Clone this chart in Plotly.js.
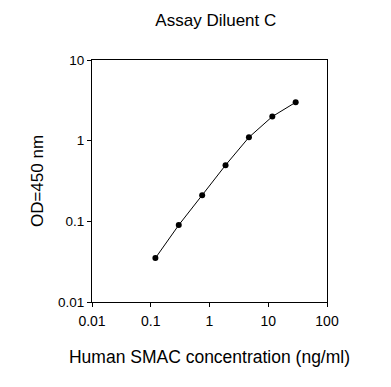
<!DOCTYPE html>
<html>
<head>
<meta charset="utf-8">
<script src="https://cdn.plot.ly/plotly-3.0.1.min.js"></script>
<style>html,body{margin:0;padding:0;background:#fff;}#chart{width:391px;height:387px;}</style>
</head>
<body>
<div id="chart"></div>
<script>
const concentration = [0.12, 0.3, 0.75, 1.875, 4.6875, 11.72, 29.3];
const od450 = [0.035, 0.09, 0.211, 0.497, 1.10, 1.99, 2.99];
const xTickVals = [0.01, 0.1, 1, 10, 100];
const xTickText = ["0.01", "0.1", "1", "10", "100"];
const yTickVals = [0.01, 0.1, 1, 10];
const yTickText = ["0.01", "0.1", "1", "10"];

const font = "Liberation Sans, Arial, sans-serif";
const trace = {
  x: concentration, y: od450, type: 'scatter', mode: 'lines+markers',
  line: {color: '#000', width: 1},
  marker: {color: '#000', size: 6},
  showlegend: false
};
const layout = {
  width: 391, height: 387,
  margin: {l: 92, r: 64, t: 60, b: 85},
  paper_bgcolor: '#fff', plot_bgcolor: '#fff',
  font: {family: font, color: '#000', size: 14},
  title: {text: 'Assay Diluent C', font: {family: font, size: 17, color: '#000'}, x: 0.552, xanchor: 'center', y: 0.948, yanchor: 'middle'},
  xaxis: {
    type: 'log', range: [-2, 2], tickvals: xTickVals, ticktext: xTickText,
    ticks: 'outside', ticklen: 4, tickwidth: 1, tickcolor: '#000',
    ticklabelstandoff: 2,
    showline: true, linecolor: '#000', linewidth: 1, mirror: true,
    showgrid: false, zeroline: false,
    tickfont: {family: font, size: 14, color: '#000'},
    title: {text: 'Human SMAC concentration (ng/ml)', font: {family: font, size: 17.5, color: '#000'}, standoff: 22}
  },
  yaxis: {
    type: 'log', range: [-2, 1], tickvals: yTickVals, ticktext: yTickText,
    ticks: 'outside', ticklen: 4, tickwidth: 1, tickcolor: '#000',
    showline: true, linecolor: '#000', linewidth: 1, mirror: true,
    showgrid: false, zeroline: false,
    tickfont: {family: font, size: 13.5, color: '#000'},
    title: {text: 'OD=450 nm', font: {family: font, size: 17, color: '#000'}, standoff: 10}
  }
};
Plotly.newPlot('chart', [trace], layout, {displayModeBar: false, staticPlot: true});
</script>
</body>
</html>
